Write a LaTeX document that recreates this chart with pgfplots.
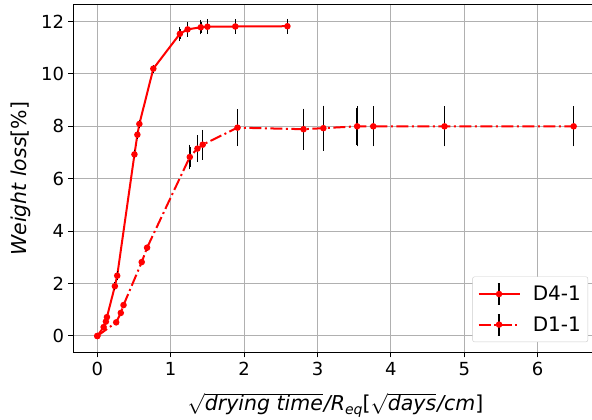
\documentclass[border=0pt]{standalone}
\usepackage{fontspec}
\setmainfont{DejaVu Sans}
\usepackage{pgfplots}
\pgfplotsset{compat=1.18}

\definecolor{gridgray}{RGB}{176,176,176}
\definecolor{legframe}{RGB}{204,204,204}

\newcommand{\lab}{\fontsize{20.5}{24}\selectfont}

\begin{document}
\begin{tikzpicture}
\begin{axis}[
    name=ax,
    scale only axis,
    width=524pt,
    height=347.5pt,
    xmin=-0.3245, xmax=6.8145,
    ymin=-0.63, ymax=12.63,
    xtick={0,1,2,3,4,5,6},
    ytick={0,2,4,6,8,10,12},
    tick pos=left,
    tick align=outside,
    major tick length=5pt,
    tick style={black, line width=1pt},
    axis line style={line width=1pt},
    grid=major,
    major grid style={gridgray, line width=1pt},
    /pgf/number format/assume math mode=true,
    tick label style={font=\fontsize{18}{21}\selectfont},
    xticklabel style={yshift=-1pt},
    yticklabel style={xshift=-1pt},
    every axis x label/.style={at={(axis description cs:0.5,0)}, anchor=base, yshift=-58pt, font=\lab},
    every axis y label/.style={at={(axis description cs:0,0.5)}, rotate=90, anchor=center, yshift=53pt, font=\lab},
    xlabel={$\sqrt{\hbox{\lab\itshape drying time}}$\kern1pt{\itshape/R}\raisebox{-4pt}{\fontsize{14}{15}\selectfont\itshape eq}[$\sqrt{\hbox{\lab\itshape days}}$\kern1pt{\itshape/cm}]},
    ylabel={{\itshape Weight loss}[\%]},
    legend style={
        at={(0.982,0.03)},
        anchor=south east,
        draw=legframe,
        rounded corners=2pt,
        fill=white,
        font=\fontsize{20}{24}\selectfont,
        row sep=8pt,
        inner xsep=5pt,
        inner ysep=6pt,
    },
    legend cell align=left,
    legend image code/.code={
        \draw[black, solid, line width=1.5pt] (0.72cm,-0.37cm) -- (0.72cm,0.37cm);
        \draw[black, solid, line width=1pt] (0.67cm,-0.37cm) -- (0.77cm,-0.37cm)
                                     (0.67cm,0.37cm) -- (0.77cm,0.37cm);
        \draw[mark repeat=2, mark phase=2, #1] plot coordinates {(0cm,0cm) (0.72cm,0cm) (1.44cm,0cm)};
        \path (1.8cm,0cm);
    },
    error bars/error bar style={black, line width=1.5pt, solid},
    error bars/error mark options={black, line width=1.2pt, mark size=1.8pt, solid},
]

% D4-1
\addplot[red, line width=2pt, mark=*, mark size=2.2pt, mark options={solid},
    error bars/.cd, y dir=both, y explicit]
table[x=x, y=y, y error=e] {
x y e
0 0 0.02
0.086 0.34 0.04
0.117 0.55 0.04
0.131 0.72 0.04
0.239 1.90 0.08
0.271 2.30 0.10
0.506 6.93 0.08
0.546 7.68 0.08
0.573 8.09 0.08
0.763 10.20 0.08
1.125 11.53 0.19
1.23 11.70 0.22
1.41 11.78 0.20
1.50 11.80 0.21
1.88 11.81 0.21
2.59 11.82 0.21
};
\addlegendentry{D4-1}

% D1-1
\addplot[red, line width=2pt, dash pattern=on 12pt off 3.5pt on 2pt off 3.5pt,
    mark=*, mark size=2.2pt, mark options={solid},
    error bars/.cd, y dir=both, y explicit]
table[x=x, y=y, y error=e] {
x y e
0 0 0.01
0.257 0.52 0.03
0.32 0.88 0.03
0.357 1.18 0.03
0.605 2.82 0.05
0.678 3.37 0.05
1.26 6.83 0.40
1.364 7.15 0.44
1.436 7.30 0.50
1.91 7.95 0.64
2.81 7.89 0.72
3.08 7.93 0.79
3.54 8.00 0.70
3.76 8.00 0.70
4.73 8.00 0.70
6.49 8.00 0.70
};
\addlegendentry{D1-1}

\end{axis}
\pgfresetboundingbox
\useasboundingbox ([shift={(-73.5pt,-67.5pt)}]ax.south west) rectangle ([shift={(518.5pt,352.5pt)}]ax.south west);
\end{tikzpicture}
\end{document}
